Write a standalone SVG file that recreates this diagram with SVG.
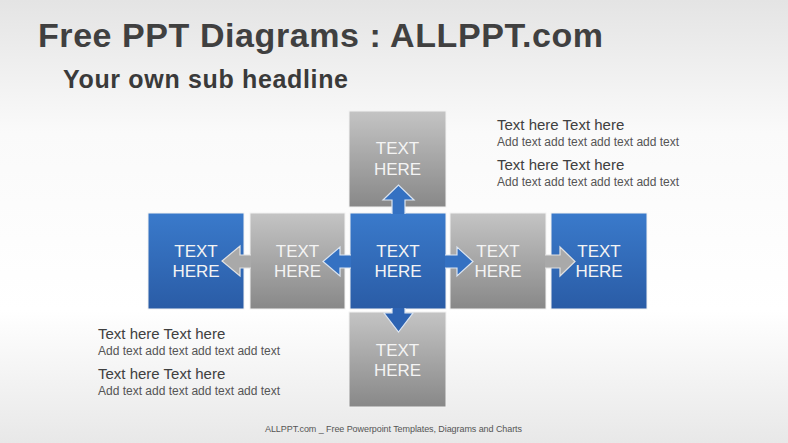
<svg xmlns="http://www.w3.org/2000/svg" width="788" height="443" viewBox="0 0 788 443">
<defs>
<linearGradient id="bg" x1="0" y1="0" x2="0" y2="1">
<stop offset="0" stop-color="#e4e4e4"/>
<stop offset="0.3" stop-color="#fafafa"/>
<stop offset="0.7" stop-color="#ffffff"/>
<stop offset="1" stop-color="#e8e8e8"/>
</linearGradient>
<linearGradient id="blue" x1="0" y1="0" x2="0" y2="1">
<stop offset="0" stop-color="#3a7acb"/>
<stop offset="1" stop-color="#2a5ca6"/>
</linearGradient>
<linearGradient id="gray" x1="0" y1="0" x2="0" y2="1">
<stop offset="0" stop-color="#c4c4c4"/>
<stop offset="1" stop-color="#888888"/>
</linearGradient>
<style>
.box{stroke:#f2f2f2;stroke-width:1}
.bt{font-family:"Liberation Sans",Arial,sans-serif;font-size:17px;fill:#f4f4f4;text-anchor:middle}
.h{font-family:"Liberation Sans",Arial,sans-serif;font-size:15px;fill:#404040}
.s{font-family:"Liberation Sans",Arial,sans-serif;font-size:12px;fill:#555555}
.ab{fill:#3471c2;stroke:#dbe5f2;stroke-width:1.2}
.ag{fill:#a9a9a9;stroke:#e2e2e2;stroke-width:1.2}
</style>
</defs>
<rect x="0" y="0" width="788" height="443" fill="url(#bg)"/>
<text x="38" y="47" font-family="Liberation Sans,Arial,sans-serif" font-size="34" font-weight="bold" fill="#404040" textLength="565">Free PPT Diagrams : ALLPPT.com</text>
<text x="63" y="88" font-family="Liberation Sans,Arial,sans-serif" font-size="25" font-weight="bold" fill="#3a3a3a" textLength="285">Your own sub headline</text>

<g id="node-top">
<rect class="box" x="349" y="111" width="97" height="96" fill="url(#gray)"/>
<text class="bt" x="397.5" y="154">TEXT</text>
<text class="bt" x="397.5" y="175">HERE</text>
</g>
<g id="node-left-blue">
<rect class="box" x="148" y="213" width="96" height="96" fill="url(#blue)"/>
<text class="bt" x="196" y="257">TEXT</text>
<text class="bt" x="196" y="277">HERE</text>
</g>
<g id="node-left-gray">
<rect class="box" x="250" y="213" width="95" height="96" fill="url(#gray)"/>
<text class="bt" x="297.5" y="257">TEXT</text>
<text class="bt" x="297.5" y="277">HERE</text>
</g>
<g id="node-center">
<rect class="box" x="350" y="213" width="96" height="96" fill="url(#blue)"/>
<text class="bt" x="398" y="257">TEXT</text>
<text class="bt" x="398" y="277">HERE</text>
</g>
<g id="node-right-gray">
<rect class="box" x="450" y="213" width="96" height="96" fill="url(#gray)"/>
<text class="bt" x="498" y="257">TEXT</text>
<text class="bt" x="498" y="277">HERE</text>
</g>
<g id="node-right-blue">
<rect class="box" x="551" y="213" width="96" height="96" fill="url(#blue)"/>
<text class="bt" x="599" y="257">TEXT</text>
<text class="bt" x="599" y="277">HERE</text>
</g>
<g id="node-bottom">
<rect class="box" x="349" y="312" width="97" height="95" fill="url(#gray)"/>
<text class="bt" x="397.5" y="356">TEXT</text>
<text class="bt" x="397.5" y="376">HERE</text>
</g>

<g id="connectors">
<path class="ab" d="M392,214 L392,200 L383,200 L398.5,185 L414,200 L405,200 L405,214"/>
<path class="ab" fill="#2d63b2" style="fill:#2d63b2" d="M392,308 L392,313 L384,313 L398.5,332 L413,313 L405,313 L405,308"/>
<path class="ab" d="M351,255 L340,255 L340,247 L323,261.5 L340,276 L340,268 L351,268"/>
<path class="ag" d="M251,255 L240,255 L240,246 L222,261 L240,276 L240,268 L251,268"/>
<path class="ab" d="M445,255 L457,255 L457,247 L473,261.5 L457,276 L457,268 L445,268"/>
<path class="ag" d="M545,255 L560,255 L560,247 L575,261.5 L560,276 L560,268 L545,268"/>
</g>

<g id="text-right">
<text class="h" x="497" y="130">Text here Text here</text>
<text class="s" x="497" y="146">Add text add text add text add text</text>
<text class="h" x="497" y="170">Text here Text here</text>
<text class="s" x="497" y="186">Add text add text add text add text</text>
</g>
<g id="text-left">
<text class="h" x="98" y="339">Text here Text here</text>
<text class="s" x="98" y="355">Add text add text add text add text</text>
<text class="h" x="98" y="379">Text here Text here</text>
<text class="s" x="98" y="395">Add text add text add text add text</text>
</g>
<text x="265" y="432" font-family="Liberation Sans,Arial,sans-serif" font-size="9" fill="#555555" textLength="257">ALLPPT.com _ Free Powerpoint Templates, Diagrams and Charts</text>
</svg>
